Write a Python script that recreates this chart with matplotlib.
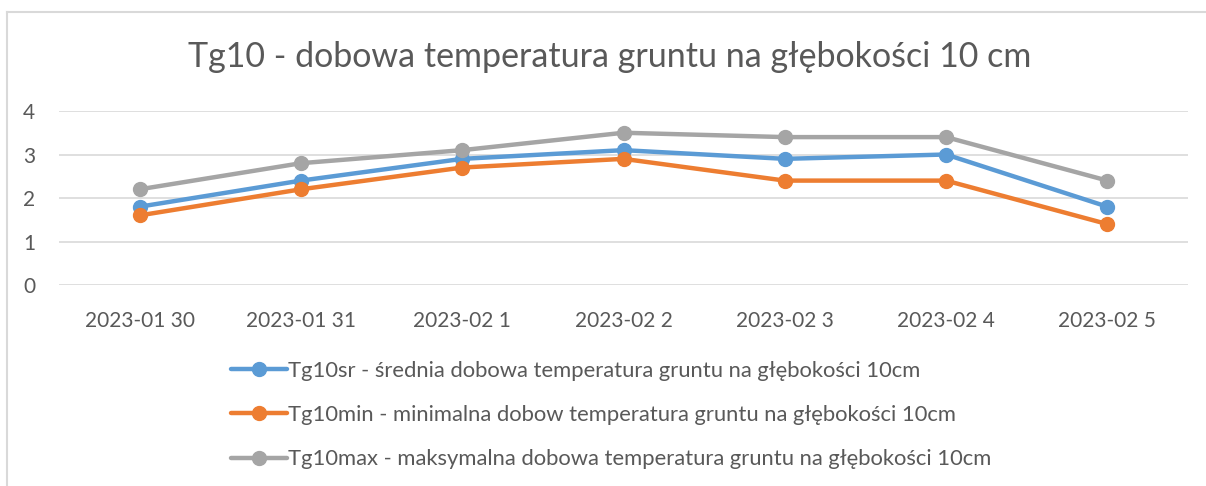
import matplotlib
matplotlib.use("Agg")
import matplotlib.pyplot as plt
from matplotlib.lines import Line2D

dates = ["2023-01 30", "2023-01 31", "2023-02 1", "2023-02 2",
         "2023-02 3", "2023-02 4", "2023-02 5"]
tg10_sr = [1.8, 2.4, 2.9, 3.1, 2.9, 3.0, 1.8]
tg10_min = [1.6, 2.2, 2.7, 2.9, 2.4, 2.4, 1.4]
tg10_max = [2.2, 2.8, 3.1, 3.5, 3.4, 3.4, 2.4]
labels = [
    "Tg10sr - średnia dobowa temperatura gruntu na głębokości 10cm",
    "Tg10min - minimalna dobow temperatura gruntu na głębokości 10cm",
    "Tg10max - maksymalna dobowa temperatura gruntu na głębokości 10cm",
]
colors = ["#5B9BD5", "#ED7D31", "#A5A5A5"]

plt.rcParams["font.family"] = ["Lato", "DejaVu Sans"]
text_col = "#595959"

fig = plt.figure(figsize=(12.06, 4.86), dpi=100)
ax = fig.add_axes([59/1206, 1-285/486, (1188-59)/1206, (285-111)/486])

x = list(range(len(dates)))
for vals, c, lab in zip([tg10_sr, tg10_min, tg10_max], colors, labels):
    ax.plot(x, vals, color=c, lw=3.2, marker="o", ms=10, label=lab,
            clip_on=False, solid_capstyle="round", zorder=3)

ax.set_xlim(-0.5, len(dates) - 0.5)
ax.set_ylim(0, 4)
ax.set_yticks([0, 1, 2, 3, 4])
ax.set_xticks(x)
ax.set_xticklabels(dates)
ax.grid(axis="y", color="#D9D9D9", lw=1.2)
ax.set_axisbelow(True)
for s in ax.spines.values():
    s.set_visible(False)
ax.tick_params(axis="both", length=0, labelsize=15, colors=text_col)
ax.tick_params(axis="x", pad=19)
ax.tick_params(axis="y", pad=17)

fig.text(610/1206, 1-57/486, "Tg10 - dobowa temperatura gruntu na głębokości 10 cm",
         ha="center", va="center", fontsize=24.5, color=text_col)

handles, labs = ax.get_legend_handles_labels()
leg = fig.legend(handles, labs, loc="upper left", bbox_to_anchor=(231/1206, 1-361/486),
                 frameon=False, fontsize=15.8, handlelength=2.55, handletextpad=0.05,
                 labelspacing=1.1, borderaxespad=0, borderpad=0)
for t in leg.get_texts():
    t.set_color(text_col)

# chart frame (left and top edges visible)
fig.add_artist(Line2D([7/1206, 7/1206], [0, 1-12/486], color="#D9D9D9", lw=1.5,
                      transform=fig.transFigure))
fig.add_artist(Line2D([7/1206, 1], [1-12/486, 1-12/486], color="#D9D9D9", lw=1.5,
                      transform=fig.transFigure))

fig.savefig("out.png", dpi=100)
